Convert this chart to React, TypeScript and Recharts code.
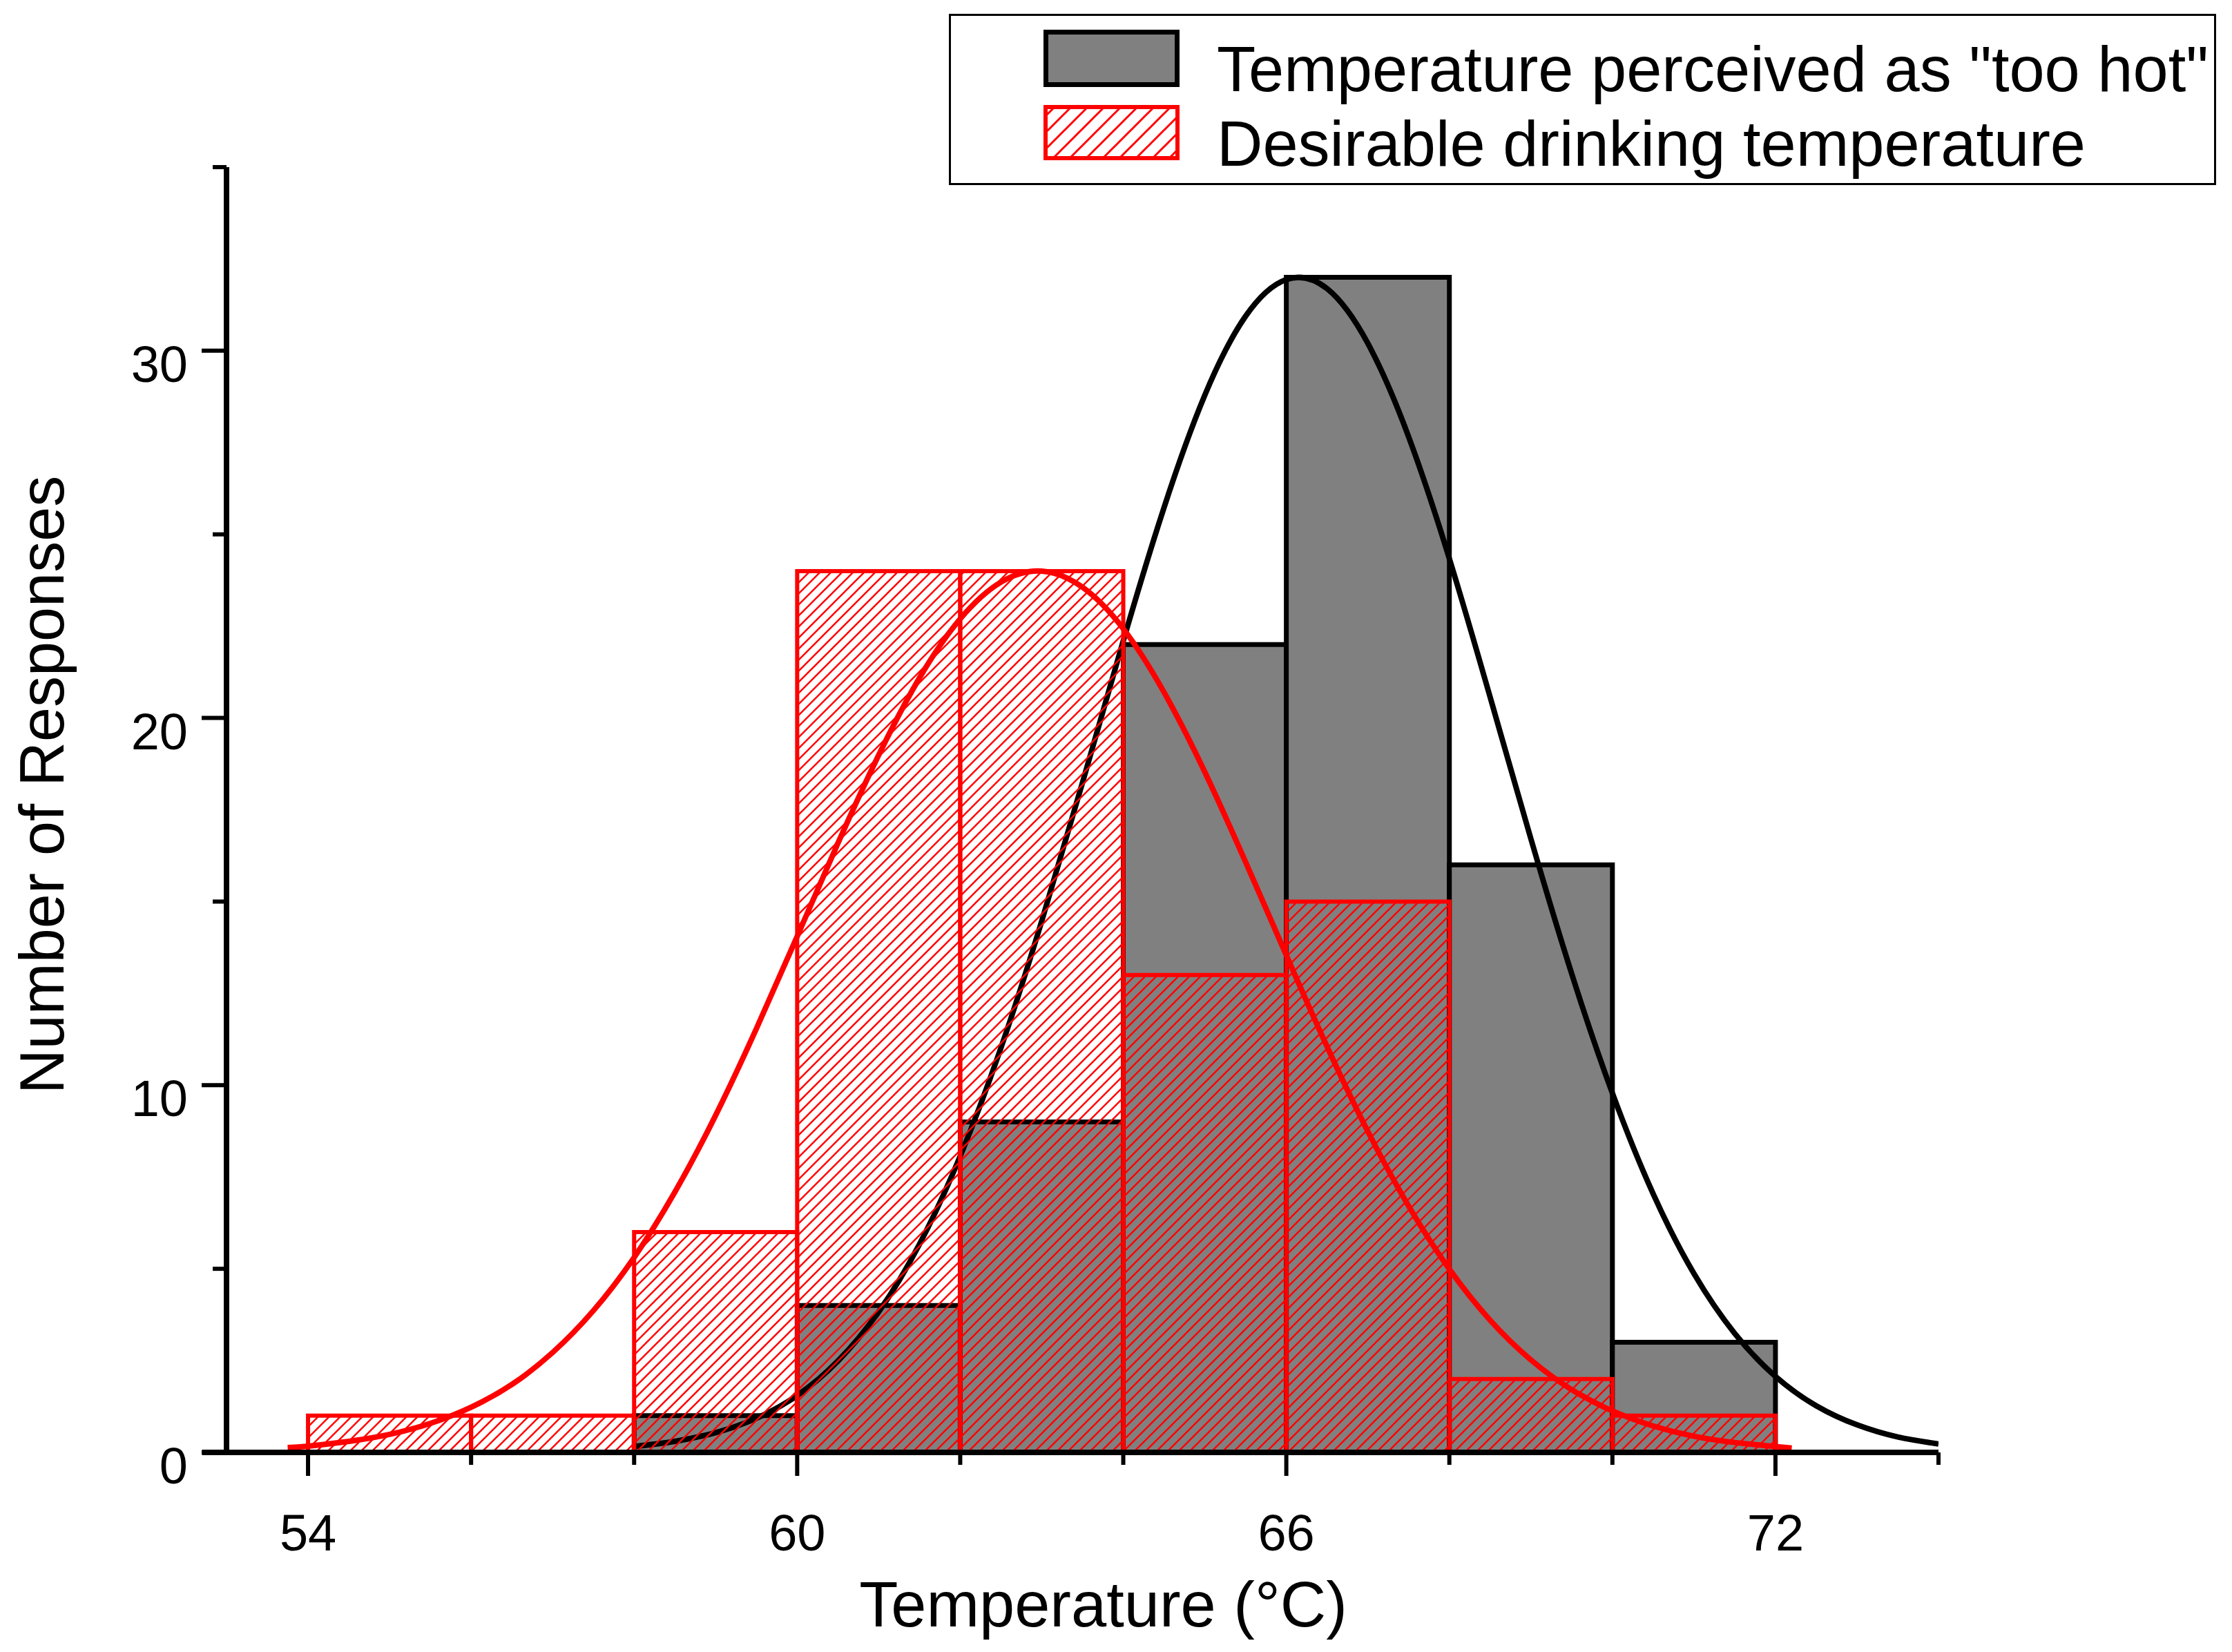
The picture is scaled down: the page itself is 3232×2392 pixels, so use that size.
import React from 'react';
import {
  ComposedChart,
  Line,
  XAxis,
  YAxis,
  ReferenceArea,
  ReferenceLine,
  Legend,
  Label,
} from 'recharts';

// ---------- data ----------
const binEdges = [54, 56, 58, 60, 62, 64, 66, 68, 70, 72];
const tooHotCounts = [0, 0, 1, 4, 9, 22, 32, 16, 3];
const desirableCounts = [1, 1, 6, 24, 24, 13, 15, 2, 1];

const tooHotFitX = [
  58, 58.5, 59, 59.5, 60, 60.5, 61, 61.5, 62, 62.5, 63, 63.5, 64, 64.5, 65, 65.5,
  66, 66.5, 67, 67.5, 68, 68.5, 69, 69.5, 70, 70.5, 71, 71.5, 72, 72.5, 73, 73.5, 74,
];
const tooHotFitY = [
  0.16, 0.3, 0.54, 0.93, 1.55, 2.49, 3.83, 5.67, 8.07, 11.02, 14.47, 18.24, 22.1, 25.73,
  28.79, 30.94, 31.94, 31.69, 30.2, 27.66, 24.34, 20.57, 16.71, 13.04, 9.78, 7.04, 4.87,
  3.24, 2.07, 1.27, 0.75, 0.42, 0.23,
];

const desirableFitX = [
  53.75, 54, 54.5, 55, 55.5, 56, 56.5, 57, 57.5, 58, 58.5, 59, 59.5, 60, 60.5, 61, 61.5,
  62, 62.5, 63, 63.5, 64, 64.5, 65, 65.5, 66, 66.5, 67, 67.5, 68, 68.5, 69, 69.5, 70,
  70.5, 71, 71.5, 72, 72.2,
];
const desirableFitY = [
  0.13, 0.17, 0.3, 0.49, 0.79, 1.23, 1.85, 2.72, 3.86, 5.31, 7.09, 9.18, 11.54, 14.05,
  16.59, 18.99, 21.09, 22.7, 23.7, 24.0, 23.56, 22.43, 20.7, 18.53, 16.08, 13.54, 11.05,
  8.74, 6.71, 4.99, 3.6, 2.52, 1.71, 1.13, 0.72, 0.44, 0.27, 0.16, 0.12,
];

const xTicks = [54, 56, 58, 60, 62, 64, 66, 68, 70, 72, 74];
const xTickLabels = [54, 60, 66, 72];
const yTicks = [0, 5, 10, 15, 20, 25, 30, 35];
const yTickLabels = [0, 10, 20, 30];

const seriesNames = ['Temperature perceived as "too hot"', 'Desirable drinking temperature'];
const xTitle = 'Temperature (°C)';
const yTitle = 'Number of Responses';

// ---------- derived ----------
const makeBins = (counts: number[]) =>
  binEdges
    .slice(0, -1)
    .map((x1, i) => ({ x1, x2: binEdges[i + 1], count: counts[i] }))
    .filter((b) => b.count > 0);

const tooHotBins = makeBins(tooHotCounts);
const desirableBins = makeBins(desirableCounts);
const tooHotFit = tooHotFitX.map((x, i) => ({ x, y: tooHotFitY[i] }));
const desirableFit = desirableFitX.map((x, i) => ({ x, y: desirableFitY[i] }));

const FONT = '"Liberation Sans", Arial, Helvetica, sans-serif';
const RED = '#ff0000';
const GREY = '#808080';

function XTick(props: any) {
  const { x, y, payload } = props;
  const major = xTickLabels.includes(payload.value);
  return (
    <g>
      <line x1={x} y1={y} x2={x} y2={y + (major ? 34 : 18)} stroke="#000" strokeWidth={6} />
      {major && (
        <text x={x} y={y + 142} textAnchor="middle" fontSize={74} fontFamily={FONT} fill="#000">
          {payload.value}
        </text>
      )}
    </g>
  );
}

function YTick(props: any) {
  const { x, y, payload } = props;
  const major = yTickLabels.includes(payload.value);
  return (
    <g>
      <line x1={x - (major ? 36 : 20)} y1={y} x2={x} y2={y} stroke="#000" strokeWidth={6} />
      {major && (
        <text x={x - 56} y={y + 45} textAnchor="end" fontSize={74} fontFamily={FONT} fill="#000">
          {payload.value}
        </text>
      )}
    </g>
  );
}

function YTitle(props: any) {
  const vb = props.viewBox;
  const x = vb.x + 84;
  const y = vb.y + vb.height / 2 - 36;
  return (
    <text
      x={x}
      y={y}
      transform={`rotate(-90, ${x}, ${y})`}
      textAnchor="middle"
      fontSize={90}
      fontFamily={FONT}
      fill="#000"
    >
      {yTitle}
    </text>
  );
}

function XTitle(props: any) {
  const vb = props.viewBox;
  return (
    <text
      x={vb.x + vb.width / 2 + 30}
      y={vb.y + 252}
      textAnchor="middle"
      fontSize={92}
      fontFamily={FONT}
      fill="#000"
    >
      {xTitle}
    </text>
  );
}

function LegendBox() {
  return (
    <svg width={1835} height={248} style={{ display: 'block' }}>
      <defs>
        <pattern id="legendHatch" patternUnits="userSpaceOnUse" width={24} height={24}>
          <path d="M-6,6 L6,-6 M0,24 L24,0 M18,30 L30,18" stroke={RED} strokeWidth={3} />
        </pattern>
      </defs>
      <rect x={1.5} y={1.5} width={1832} height={245} fill="#fff" stroke="#000" strokeWidth={3} />
      <rect x={140.5} y={26.5} width={190} height={76} fill={GREY} stroke="#000" strokeWidth={7} />
      <rect x={140} y={135} width={191} height={74} fill="url(#legendHatch)" stroke={RED} strokeWidth={6} />
      <text x={388} y={112} fontSize={92} fontFamily={FONT} fill="#000">
        {seriesNames[0]}
      </text>
      <text x={388} y={220} fontSize={92} fontFamily={FONT} fill="#000">
        {seriesNames[1]}
      </text>
    </svg>
  );
}

export default function App() {
  return (
    <div style={{ width: 3216, height: 2376, background: '#fff' }}>
      <ComposedChart width={3216} height={2376} margin={{ top: 234, right: 417, bottom: 0, left: 0 }}>
        <defs>
          <pattern id="redHatch" patternUnits="userSpaceOnUse" width={16} height={16}>
            <path d="M-4,4 L4,-4 M0,16 L16,0 M12,20 L20,12" stroke={RED} strokeWidth={2.5} />
          </pattern>
        </defs>

        {tooHotBins.map((b) => (
          <ReferenceArea
            key={`hot-${b.x1}`}
            x1={b.x1}
            x2={b.x2}
            y1={0}
            y2={b.count}
            fill={GREY}
            fillOpacity={1}
            stroke="#000"
            strokeWidth={7}
            ifOverflow="visible"
            zIndex={100}
          />
        ))}

        <Line
          data={tooHotFit}
          dataKey="y"
          type="natural"
          stroke="#000"
          strokeWidth={8}
          dot={false}
          activeDot={false}
          isAnimationActive={false}
          legendType="none"
          zIndex={150}
        />

        {desirableBins.map((b) => (
          <ReferenceArea
            key={`des-${b.x1}`}
            x1={b.x1}
            x2={b.x2}
            y1={0}
            y2={b.count}
            fill="url(#redHatch)"
            fillOpacity={1}
            stroke={RED}
            strokeWidth={6}
            ifOverflow="visible"
            zIndex={200}
          />
        ))}

        <Line
          data={desirableFit}
          dataKey="y"
          type="natural"
          stroke={RED}
          strokeWidth={8}
          dot={false}
          activeDot={false}
          isAnimationActive={false}
          legendType="none"
          zIndex={400}
        />

        <ReferenceLine
          segment={[
            { x: 52.7, y: 0 },
            { x: 53, y: 0 },
          ]}
          stroke="#000"
          strokeWidth={8}
          ifOverflow="visible"
          zIndex={500}
        />

        <XAxis
          dataKey="x"
          type="number"
          domain={[53, 74]}
          allowDataOverflow
          ticks={xTicks}
          interval={0}
          height={281}
          axisLine={{ stroke: '#000', strokeWidth: 8 }}
          tickLine={false}
          tickSize={0}
          tickMargin={0}
          tick={<XTick />}
          label={<Label content={XTitle} />}
        />
        <YAxis
          type="number"
          domain={[0, 35]}
          allowDataOverflow
          ticks={yTicks}
          interval={0}
          width={320}
          axisLine={{ stroke: '#000', strokeWidth: 8 }}
          tickLine={false}
          tickSize={0}
          tickMargin={0}
          tick={<YTick />}
          label={<Label content={YTitle} />}
        />

        <Legend
          layout="vertical"
          align="center"
          verticalAlign="middle"
          wrapperStyle={{ position: 'absolute', left: 1366, top: 12, width: 1835, height: 248, margin: 0, padding: 0 }}
          content={() => <LegendBox />}
        />
      </ComposedChart>
    </div>
  );
}
